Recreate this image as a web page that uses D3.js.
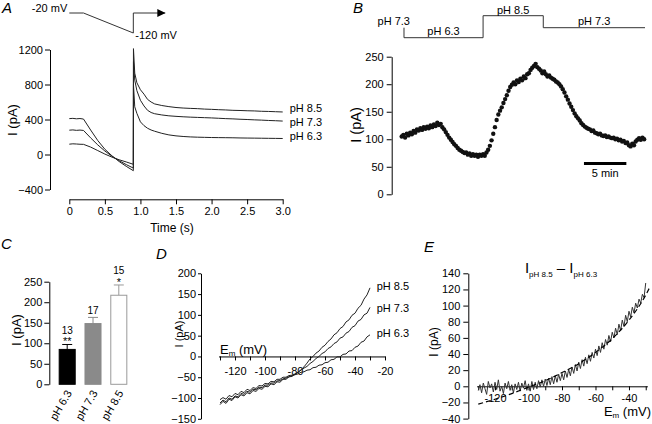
<!DOCTYPE html>
<html><head><meta charset="utf-8">
<script src="https://cdn.jsdelivr.net/npm/d3@7"></script>
<style>
body{margin:0;background:#fff;}
svg{display:block;font-family:"Liberation Sans",Arial,Helvetica,sans-serif;}
.axis path,.axis line{stroke:#000;stroke-width:1;}
.axis text{font-size:11px;fill:#000;font-family:"Liberation Sans",Arial,sans-serif;}
</style></head><body>
<svg id="chart" width="652" height="424"></svg>
<script>
// ---------- Panel A: current traces ----------
const aTime = [0,0.05,0.1,0.15,0.2,0.3,0.4,0.5,0.6,0.7,0.8,0.9,0.902,0.92,0.95,1.0,1.05,1.1,1.15,1.2,1.3,1.4,1.5,1.6,1.7,1.8,1.9,2.0,2.1,2.2,2.3,2.4,2.5,2.6,2.7,2.8,2.9,3.0];
const aPH85 = [410,413,408,411,405,280,160,60,-15,-80,-135,-185,1210,930,820,740,690,630,600,578,560,547,537,531,527,524,519,516,512,509,505,503,500,498,494,492,489,486];
const aPH73 = [278,281,276,279,275,190,110,40,-20,-70,-115,-155,1060,850,730,620,555,505,480,466,452,442,436,431,427,424,421,418,414,410,407,403,400,396,393,389,386,382];
const aPH63 = [118,122,120,117,116,85,45,5,-30,-60,-85,-112,800,545,470,373,330,300,280,266,242,224,213,206,201,198,196,194,193,192,191,189,188,187,186,185,184,183];
const aSeriesNames = ["pH 8.5","pH 7.3","pH 6.3"];
const aXTicks = [0,0.5,1.0,1.5,2.0,2.5,3.0];
const aYTicks = [-400,0,400,800,1200];
const protoTime = [0,0.2,0.9,0.9,1.35];
const protoMV = [-20,-20,-120,-20,-20];

// ---------- Panel B: time course ----------
const bStepMin = 0.2;
const bValues = [105,108,103,110,107,112,109,115,112,118,116,120,117,122,119,123,120,125,122,127,124,130,126,128,122,118,113,108,103,99,95,91,88,84,81,79,77,75,76,72,74,70,73,70,72,68,72,70,73,70,76,81,88,98,110,122,135,145,152,158,166,173,180,188,195,199,203,200,207,204,210,207,214,211,218,220,226,230,233,237,231,228,225,220,223,218,214,216,212,210,208,205,203,200,196,191,185,178,172,165,159,153,147,142,138,134,129,126,123,121,119,118,115,116,112,111,109,110,107,106,107,104,105,103,102,103,100,101,98,99,96,97,93,94,89,87,92,89,96,99,102,99,103,100];
const bYTicks = [0,50,100,150,200,250];
const bPhTime = [0.27,0.27,9.6,9.6,16.7,16.7,28.7];
const bPhLevel = [7.3,6.3,6.3,8.5,8.5,7.3,7.3];
const bPhLabels = ["pH 7.3","pH 6.3","pH 8.5","pH 7.3"];
const bScaleBar = [21.5,26.5];

// ---------- Panel C: bar chart ----------
const cCategories = ["pH 6.3","pH 7.3","pH 8.5"];
const cMeans = [85,148,217];
const cErrors = [12,15,25];
const cN = ["13","17","15"];
const cSig = ["**","","*"];
const cYTicks = [0,50,100,150,200,250];

// ---------- Panel D: I-V curves ----------
const dStartMV = -130, dStepMV = 2;
const dPH85 = [-116,-108,-113,-103,-106,-97,-100,-92,-95,-87,-90,-82,-84,-77,-79,-72,-73,-66,-68,-61,-62,-55,-55,-49,-48,-43,-38,-32,-25,-16,-6,0,8,13,22,27,36,42,52,57,67,72,83,88,99,104,116,123,138,148,165];
const dPH73 = [-104,-99,-103,-94,-97,-89,-92,-84,-87,-79,-82,-75,-77,-70,-71,-65,-66,-60,-61,-55,-55,-50,-50,-46,-45,-42,-38,-33,-28,-24,-17,-12,-5,0,7,11,19,23,31,35,44,47,56,60,70,74,85,89,100,104,118];
const dPH63 = [-112,-105,-109,-100,-103,-95,-97,-89,-91,-84,-86,-79,-80,-74,-75,-69,-69,-64,-64,-59,-58,-54,-52,-49,-46,-44,-42,-38,-37,-33,-32,-27,-26,-21,-20,-15,-14,-8,-7,-1,-1,5,6,13,14,22,25,34,37,47,52];
const dXTicks = [-130,-120,-110,-100,-90,-80,-70,-60,-50,-40,-30,-20];
const dXLabels = [-120,-100,-80,-60,-40,-20];
const dYTicks = [-150,-100,-50,0,50,100,150,200];

// ---------- Panel E: difference current ----------
const eStartMV = -130, eStepMV = 1;
const eDiff = [-5,2,-8,4,-3,-10,6,-2,3,-7,5,-4,8,-6,0,-9,4,-3,6,-5,2,-8,3,-4,5,-6,4,-2,7,-5,3,-6,6,-4,5,-3,7,-1,8,0,9,1,10,2,12,3,13,5,15,7,16,8,19,11,21,13,24,16,27,19,30,22,33,25,36,28,39,31,42,35,46,38,50,42,54,46,58,51,63,55,67,60,72,64,77,69,82,74,88,80,93,86,98,91,103,97,108,103,114,110,128];
const eFitMV = [-130,-120,-110,-100,-90,-80,-70,-60,-50,-40,-30,-28];
const eFitI = [-22,-16,-9,-1,7,17,28,42,59,82,113,121];
const eXTicks = [-130,-120,-110,-100,-90,-80,-70,-60,-50,-40,-30];
const eXLabels = [-120,-100,-80,-60,-40];
const eYTicks = [-40,-20,0,20,40,60,80,100,120,140];

// ============================================================
const svg = d3.select("#chart");
const FONT = '"Liberation Sans",Arial,Helvetica,sans-serif';
function styleAxis(g){ g.attr("class","axis"); g.selectAll("text").style("font-size","11px"); return g; }
function panelLabel(t,x,y){ svg.append("text").attr("x",x).attr("y",y).text(t).style("font-style","italic").style("font-size","15px").style("font-family",FONT); }
function yLabel(x,y,size){ svg.append("text").attr("transform",`translate(${x},${y}) rotate(-90)`).attr("text-anchor","middle").style("font-size",size+"px").style("font-family",FONT).text("I (pA)"); }
function txt(t,x,y,size,anchor){ return svg.append("text").attr("x",x).attr("y",y).attr("text-anchor",anchor||"start").style("font-size",size+"px").style("font-family",FONT).text(t); }

// ---------- A ----------
{
  const x = d3.scaleLinear().domain([0,3]).range([69.3,282.7]);
  const y = d3.scaleLinear().domain([-400,1200]).range([189.5,49.5]);
  svg.append("g").attr("transform","translate(0,199.3)")
    .call(d3.axisBottom(x).tickValues(aXTicks).tickSize(5).tickPadding(3).tickSizeOuter(0).tickFormat(d=>d===0?"0":d.toFixed(1))).call(styleAxis);
  svg.append("g").attr("transform","translate(50,0)")
    .call(d3.axisLeft(y).tickValues(aYTicks).tickSize(5).tickPadding(2).tickSizeOuter(0).tickFormat(d3.format("d"))).call(styleAxis);
  const series = [aPH85,aPH73,aPH63];
  const line = d3.line().x((d,i)=>x(aTime[i])).y(d=>y(d));
  series.forEach(s=> svg.append("path").attr("d",line(s)).attr("fill","none").attr("stroke","#222").attr("stroke-width",1));
  const dy = [0,5,2];
  series.forEach((s,k)=> txt(aSeriesNames[k], x(3)+7, y(s[s.length-1])+dy[k], 11));
  txt("Time (s)", 172, 232, 12, "middle");
  yLabel(17,120,13);
  panelLabel("A",2,13);
  // voltage protocol
  const yp = d3.scaleLinear().domain([-120,-20]).range([33,13]);
  svg.append("defs").append("marker").attr("id","arr").attr("viewBox","0 0 10 10").attr("refX",10).attr("refY",5)
    .attr("markerWidth",8).attr("markerHeight",8).attr("markerUnits","userSpaceOnUse").attr("orient","auto")
    .append("path").attr("d","M0,0 L10,5 L0,10 z").attr("fill","#000");
  const pl = d3.line().x((d,i)=>x(protoTime[i])).y(d=>yp(d));
  svg.append("path").attr("d",pl(protoMV)).attr("fill","none").attr("stroke","#333").attr("stroke-width",1).attr("marker-end","url(#arr)");
  txt("-20 mV", x(0)-2, 12, 11, "end");
  txt("-120 mV", x(0.9)+2, 39, 11, "start");
}

// ---------- B ----------
{
  const x = d3.scaleLinear().domain([0,28.7]).range([401.7,645]);
  const y = d3.scaleLinear().domain([0,250]).range([194.3,56.7]);
  svg.append("g").attr("transform","translate(391.7,0)")
    .call(d3.axisLeft(y).tickValues(bYTicks).tickSize(5).tickPadding(3).tickSizeOuter(0)).call(styleAxis);
  svg.append("g").selectAll("circle").data(bValues).join("circle")
    .attr("cx",(d,i)=>x(i*bStepMin)).attr("cy",d=>y(d)).attr("r",2.2).attr("fill","#111");
  const yph = d3.scaleLinear().domain([6.3,8.5]).range([37.7,15.7]);
  const pl = d3.line().x((d,i)=>x(bPhTime[i])).y(d=>yph(d));
  svg.append("path").attr("d",pl(bPhLevel)).attr("fill","none").attr("stroke","#333").attr("stroke-width",1);
  txt(bPhLabels[0], x(bPhTime[0])+6, yph(7.3)-2.5, 11, "end");
  txt(bPhLabels[1], (x(bPhTime[1])+x(bPhTime[2]))/2, yph(6.3)-2.5, 11, "middle");
  txt(bPhLabels[2], (x(bPhTime[3])+x(bPhTime[4]))/2, yph(8.5)-2, 11, "middle");
  txt(bPhLabels[3], (x(bPhTime[5])+x(bPhTime[6]))/2, yph(7.3)-2.5, 11, "middle");
  svg.append("line").attr("x1",x(bScaleBar[0])).attr("x2",x(bScaleBar[1])).attr("y1",y(56)).attr("y2",y(56)).attr("stroke","#000").attr("stroke-width",3);
  txt("5 min",(x(bScaleBar[0])+x(bScaleBar[1]))/2,177,11,"middle");
  yLabel(361,125,14.5);
  panelLabel("B",353,13);
}

// ---------- C ----------
{
  const x = d3.scaleBand().domain(cCategories).range([54.3,131.7]).paddingInner(0.34).paddingOuter(0.17);
  const y = d3.scaleLinear().domain([0,250]).range([384.3,281.7]);
  svg.append("g").attr("transform","translate(49.3,0)")
    .call(d3.axisLeft(y).tickValues(cYTicks).tickSize(5).tickPadding(2).tickSizeOuter(0)).call(styleAxis);
  const fills = ["#000","#8a8a8a","#fff"];
  const strokes = ["#000","#8a8a8a","#9a9a9a"];
  cCategories.forEach((c,i)=>{
    const cx = x(c)+x.bandwidth()/2;
    const top = y(cMeans[i]+cErrors[i]);
    svg.append("line").attr("x1",cx).attr("x2",cx).attr("y1",y(cMeans[i])).attr("y2",top).attr("stroke",strokes[i]).attr("stroke-width",1);
    svg.append("line").attr("x1",cx-5).attr("x2",cx+5).attr("y1",top).attr("y2",top).attr("stroke",strokes[i]).attr("stroke-width",1);
    svg.append("rect").attr("x",x(c)+0.5).attr("y",y(cMeans[i])).attr("width",x.bandwidth()-1).attr("height",y(0)-y(cMeans[i]))
      .attr("fill",fills[i]).attr("stroke",strokes[i]).attr("stroke-width",1);
    if(cSig[i]){
      txt(cSig[i],cx,top+1,11,"middle");
      txt(cN[i],cx,top-10.5,10,"middle");
    } else {
      txt(cN[i],cx,top-3,10,"middle");
    }
    svg.append("text").attr("transform",`translate(${cx+5},${393}) rotate(-60)`).attr("text-anchor","end")
      .style("font-size","11px").style("font-family",FONT).text(c);
  });
  yLabel(21,330,13);
  panelLabel("C",1,249);
}

// ---------- D ----------
{
  const x = d3.scaleLinear().domain([-131,-20]).range([218.5,385]);
  const y = d3.scaleLinear().domain([-150,200]).range([418.8,273.3]);
  svg.append("g").attr("transform",`translate(201,0)`)
    .call(d3.axisLeft(y).tickValues(dYTicks).tickSize(3).tickPadding(2).tickSizeOuter(0)).call(styleAxis);
  svg.append("g").attr("transform",`translate(0,${y(0)})`)
    .call(d3.axisBottom(x).tickValues(dXTicks).tickSize(4).tickPadding(7).tickSizeOuter(0).tickFormat(d=>dXLabels.includes(d)?d:"")).call(styleAxis);
  const line = d3.line().x((d,i)=>x(dStartMV+i*dStepMV)).y(d=>y(d));
  [dPH85,dPH73,dPH63].forEach(s=> svg.append("path").attr("d",line(s)).attr("fill","none").attr("stroke","#222").attr("stroke-width",1));
  txt("pH 8.5",376.7,289.5,11); txt("pH 7.3",376.7,311.5,11); txt("pH 6.3",376.7,337,11);
  const t = svg.append("text").attr("x",220).attr("y",354).style("font-family",FONT).style("font-size","13px");
  t.append("tspan").text("E"); t.append("tspan").attr("dy",2).style("font-size","8px").text("m");
  t.append("tspan").attr("dy",-2).text(" (mV)");
  yLabel(182.5,334,11);
  panelLabel("D",156,259);
}

// ---------- E ----------
{
  const x = d3.scaleLinear().domain([-131,-29]).range([476.6,647.4]);
  const y = d3.scaleLinear().domain([-40,140]).range([418.6,273.3]);
  svg.append("g").attr("transform",`translate(468.3,0)`)
    .call(d3.axisLeft(y).tickValues(eYTicks).tickSize(5).tickPadding(3).tickSizeOuter(0)).call(styleAxis);
  svg.append("g").attr("transform",`translate(0,${y(0)})`)
    .call(d3.axisBottom(x).tickValues(eXTicks).tickSize(4).tickPadding(4).tickSizeOuter(0).tickFormat(d=>eXLabels.includes(d)?d:"")).call(styleAxis);
  const line = d3.line().x((d,i)=>x(eStartMV+i*eStepMV)).y(d=>y(d));
  svg.append("path").attr("d",line(eDiff)).attr("fill","none").attr("stroke","#333").attr("stroke-width",1);
  const fl = d3.line().x((d,i)=>x(eFitMV[i])).y(d=>y(d)).curve(d3.curveMonotoneX);
  svg.append("path").attr("d",fl(eFitI)).attr("fill","none").attr("stroke","#000").attr("stroke-width",1.2).attr("stroke-dasharray","5,3");
  const t = svg.append("text").attr("x",651).attr("y",416).attr("text-anchor","end").style("font-family",FONT).style("font-size","13px");
  t.append("tspan").text("E"); t.append("tspan").attr("dy",2).style("font-size","8px").text("m");
  t.append("tspan").attr("dy",-2).text(" (mV)");
  const ti = svg.append("text").attr("x",561).attr("y",273).attr("text-anchor","middle").style("font-family",FONT).style("font-size","15px");
  ti.append("tspan").text("I"); ti.append("tspan").attr("dy",4).style("font-size","8px").text("pH 8.5");
  ti.append("tspan").attr("dy",-4).text(" \u2013 I"); ti.append("tspan").attr("dy",4).style("font-size","8px").text("pH 6.3");
  yLabel(438,342,12);
  panelLabel("E",424,252);
}
</script>
</body></html>
